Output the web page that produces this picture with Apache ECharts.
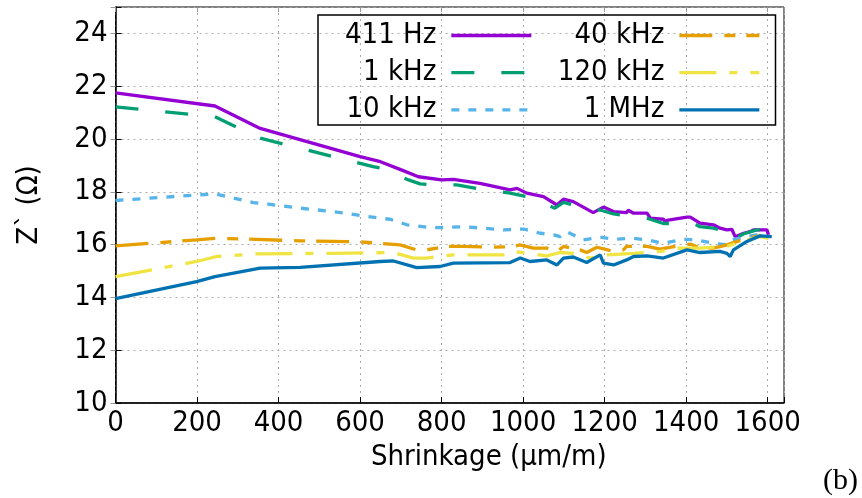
<!DOCTYPE html>
<html>
<head>
<meta charset="utf-8">
<script src="https://cdn.jsdelivr.net/npm/echarts@6/dist/echarts.min.js"></script>
<style>html,body{margin:0;padding:0;background:#fff;}#c{width:862px;height:498px;}</style>
</head>
<body>
<div id="c"></div>
<script>
const seriesNames = ['411 Hz', '1 kHz', '10 kHz', '40 kHz', '120 kHz', '1 MHz'];
const xTicks = [0, 200, 400, 600, 800, 1000, 1200, 1400, 1600];
const yTicks = [10, 12, 14, 16, 18, 20, 22, 24];

const x411 = [0, 244, 355, 600, 650, 698, 743, 800, 829, 894, 968, 985, 1009, 1050, 1083, 1099, 1123, 1172, 1197, 1222, 1254, 1258, 1271, 1304, 1312, 1344, 1348, 1356, 1402, 1410, 1434, 1467, 1483, 1500, 1512, 1520, 1541, 1557, 1565, 1598, 1602];
const y411 = [21.75, 21.25, 20.4, 19.33, 19.14, 18.85, 18.57, 18.45, 18.47, 18.32, 18.07, 18.13, 17.95, 17.82, 17.5, 17.72, 17.63, 17.21, 17.42, 17.25, 17.21, 17.3, 17.19, 17.19, 17.0, 16.96, 16.88, 16.93, 17.04, 17.04, 16.81, 16.75, 16.62, 16.56, 16.58, 16.3, 16.43, 16.49, 16.56, 16.56, 16.37];

const x1k = [0, 244, 355, 632, 650, 719, 747, 768, 837, 894, 968, 1009, 1078, 1099, 1123, 1189, 1222, 1304, 1344, 1418, 1434, 1467, 1500, 1512, 1516, 1540, 1573, 1602];
const y1k = [21.22, 20.84, 20.03, 18.95, 18.9, 18.45, 18.3, 18.28, 18.26, 18.1, 17.95, 17.82, 17.38, 17.6, 17.5, 17.31, 17.16, 17.0, 16.8, 16.8, 16.68, 16.62, 16.5, 16.43, 16.18, 16.4, 16.56, 16.56];

const x10k = [0, 199, 244, 338, 376, 453, 534, 649, 674, 715, 772, 813, 853, 952, 1001, 1042, 1075, 1091, 1107, 1148, 1172, 1189, 1222, 1271, 1304, 1344, 1393, 1426, 1467, 1500, 1512, 1549, 1573, 1602];
const y10k = [17.67, 17.88, 17.92, 17.59, 17.53, 17.38, 17.25, 17.0, 16.96, 16.75, 16.64, 16.65, 16.68, 16.56, 16.59, 16.43, 16.37, 16.3, 16.49, 16.18, 16.24, 16.28, 16.2, 16.24, 16.18, 16.05, 16.2, 16.18, 16.05, 15.99, 16.18, 16.3, 16.37, 16.3];

const x40k = [0, 199, 248, 346, 453, 592, 649, 698, 739, 763, 813, 853, 927, 976, 992, 1025, 1058, 1083, 1099, 1140, 1156, 1181, 1222, 1246, 1254, 1304, 1336, 1385, 1410, 1434, 1467, 1500, 1549, 1581, 1602];
const y40k = [15.95, 16.18, 16.24, 16.2, 16.14, 16.11, 16.05, 15.99, 15.8, 15.8, 15.93, 15.93, 15.9, 15.93, 15.99, 15.87, 15.87, 15.74, 15.93, 15.8, 15.7, 15.9, 15.74, 15.8, 15.93, 15.93, 15.83, 15.97, 16.02, 15.87, 15.87, 15.99, 16.24, 16.33, 16.24];

const x120k = [0, 199, 248, 346, 534, 682, 731, 763, 829, 960, 976, 1058, 1091, 1123, 1164, 1205, 1271, 1336, 1385, 1434, 1500, 1549, 1581, 1602];
const y120k = [14.79, 15.36, 15.55, 15.65, 15.67, 15.7, 15.49, 15.49, 15.61, 15.61, 15.74, 15.57, 15.7, 15.67, 15.49, 15.61, 15.67, 15.74, 15.87, 15.87, 15.93, 16.18, 16.3, 16.24];

const x1M = [0, 199, 244, 355, 453, 649, 682, 739, 796, 829, 968, 993, 1017, 1058, 1083, 1099, 1123, 1156, 1189, 1197, 1222, 1254, 1271, 1304, 1344, 1402, 1434, 1483, 1500, 1508, 1516, 1549, 1581, 1610];
const y1M = [13.95, 14.6, 14.79, 15.11, 15.14, 15.36, 15.38, 15.13, 15.17, 15.3, 15.32, 15.49, 15.36, 15.42, 15.23, 15.49, 15.53, 15.32, 15.61, 15.3, 15.23, 15.42, 15.55, 15.57, 15.49, 15.8, 15.7, 15.74, 15.67, 15.55, 15.8, 16.12, 16.33, 16.3];

const xs = [x411, x1k, x10k, x40k, x120k, x1M];
const ys = [y411, y1k, y10k, y40k, y120k, y1M];
const colors = ['#9400D3', '#009E73', '#56B4E9', '#E69F00', '#F0E442', '#0072B2'];
const dashes = ['solid', [23, 27], [8, 9], [33, 12, 11, 11], [37, 13, 8, 13], 'solid'];

const FONT = "'DejaVu Sans Condensed', 'Liberation Sans', sans-serif";
const FS = 29;

const pairs = (a, b) => a.map((v, i) => [v, b[i]]);

const series = seriesNames.map((n, i) => ({
  name: n,
  type: 'line',
  data: pairs(xs[i], ys[i]),
  symbol: 'none',
  showSymbol: false,
  smooth: false,
  animation: false,
  xAxisIndex: 0,
  yAxisIndex: 0,
  lineStyle: { color: colors[i], width: 3.3, type: dashes[i], cap: 'butt' },
  itemStyle: { color: colors[i] },
  z: 2 + i
}));

const legendCommon = {
  orient: 'vertical',
  align: 'right',
  itemWidth: 80,
  itemHeight: 14,
  itemGap: 8.2,
  padding: 0,
  top: 21,
  selectedMode: false,
  itemStyle: { opacity: 0 },
  lineStyle: { width: 3.3 },
  textStyle: { fontFamily: FONT, fontSize: FS, color: '#000', padding: [0, 10, 0, 0] }
};

const chart = echarts.init(document.getElementById('c'), null, { renderer: 'canvas' });
chart.setOption({
  animation: false,
  backgroundColor: '#fff',
  grid: { left: 115.5, right: 78, top: 7, bottom: 95, show: true, borderColor: '#000', borderWidth: 1, containLabel: false },
  legend: [
    Object.assign({}, legendCommon, { data: seriesNames.slice(0, 3), right: 329 }),
    Object.assign({}, legendCommon, { data: seriesNames.slice(3, 6), right: 101 })
  ],
  graphic: [
    { type: 'rect', shape: { x: 318, y: 15, width: 457.5, height: 110 }, style: { fill: 'none', stroke: '#000', lineWidth: 1.5 }, z: 10, silent: true },
    { type: 'text', right: 4, bottom: 2, style: { text: '(b)', font: "30px 'Liberation Serif', serif", fill: '#000' }, z: 10 }
  ],
  xAxis: [{
    type: 'value', min: 0, max: 1640, interval: 200,
    name: 'Shrinkage (µm/m)', nameLocation: 'middle', nameGap: 38,
    nameTextStyle: { fontFamily: FONT, fontSize: FS, color: '#000', padding: [0, 0, 0, 78] },
    axisLine: { show: true, lineStyle: { color: '#000', width: 1.5 } },
    axisTick: { show: true, inside: true, length: 6, lineStyle: { color: '#000' } },
    axisLabel: { fontFamily: FONT, fontSize: FS, color: '#000', margin: 6, formatter: v => (xTicks.indexOf(v) >= 0 ? String(v) : '') },
    splitLine: { show: true, lineStyle: { color: '#aaa', type: [2, 4], width: 1 } }
  }, {
    type: 'value', min: 0, max: 1640, interval: 200, position: 'top',
    axisLine: { show: false }, axisTick: { show: true, inside: true, length: 5, lineStyle: { color: '#999' } },
    axisLabel: { show: false }, splitLine: { show: false }
  }],
  yAxis: [{
    type: 'value', min: 10, max: 25, interval: 2,
    name: 'Z` (Ω)', nameLocation: 'middle', nameGap: 72, nameRotate: 90,
    nameTextStyle: { fontFamily: FONT, fontSize: FS, color: '#000' },
    axisLine: { show: true, lineStyle: { color: '#000', width: 1.5 } },
    axisTick: { show: true, inside: true, length: 6, lineStyle: { color: '#000' } },
    axisLabel: { fontFamily: FONT, fontSize: FS, color: '#000', margin: 8, formatter: v => (yTicks.indexOf(v) >= 0 ? String(v) : '') },
    splitLine: { show: true, lineStyle: { color: '#aaa', type: [2, 4], width: 1 } }
  }, {
    type: 'value', min: 10, max: 25, interval: 2, position: 'right',
    axisLine: { show: false }, axisTick: { show: true, inside: true, length: 5, lineStyle: { color: '#999' } },
    axisLabel: { show: false }, splitLine: { show: false }
  }],
  series: series
});
</script>
</body>
</html>
